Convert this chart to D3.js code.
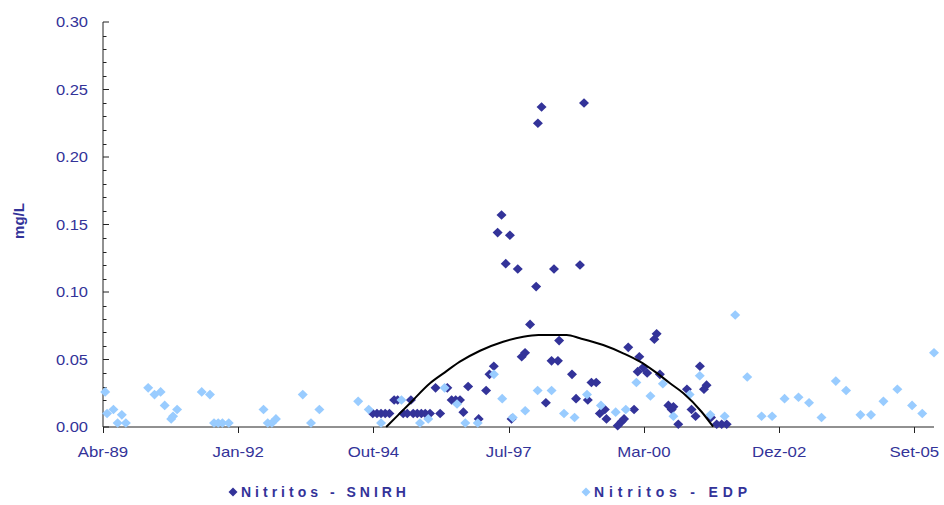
<!DOCTYPE html>
<html><head><meta charset="utf-8">
<script src="https://cdn.jsdelivr.net/npm/d3@7"></script>
<style>body{margin:0;background:#fff;} svg{display:block;font-family:Arial,"Liberation Sans",sans-serif;}</style>
</head><body><svg id="c" width="944" height="505"></svg>
<script>
// ---------- data ----------
const seriesNames = ["Nitritos - SNIRH", "Nitritos - EDP"];
const yTitle = "mg/L";
const xDomain = ["1989-04-15", "2006-02-10"];
const yDomain = [0, 0.30];
const xTickDates = ["1989-04-15","1992-01-10","1994-10-06","1997-07-02","2000-03-28","2002-12-23","2005-09-18"];
const xTickLabels = ["Abr-89","Jan-92","Out-94","Jul-97","Mar-00","Dez-02","Set-05"];
const yTicks = [0, 0.05, 0.10, 0.15, 0.20, 0.25, 0.30];
const yTickLabels = ["0.00","0.05","0.10","0.15","0.20","0.25","0.30"];
const yMinorTicks = [0.01,0.02,0.03,0.04,0.06,0.07,0.08,0.09,0.11,0.12,0.13,0.14,0.16,0.17,0.18,0.19,0.21,0.22,0.23,0.24,0.26,0.27,0.28,0.29];

const snirhDates = ["1994-10-01","1994-11-01","1994-12-01","1995-01-01","1995-02-01","1995-03-08","1995-04-03","1995-05-14","1995-06-13","1995-07-10",
"1995-07-27","1995-08-26","1995-09-25","1995-10-24","1995-11-28","1996-01-08","1996-02-11","1996-04-04","1996-05-06","1996-06-05",
"1996-07-07","1996-08-01","1996-09-05","1996-11-22","1997-01-16","1997-02-10","1997-03-14","1997-04-11","1997-05-10","1997-06-10",
"1997-07-11","1997-07-23","1997-09-07","1997-10-06","1997-10-31","1997-12-07","1998-01-21","1998-02-03","1998-03-02","1998-04-03",
"1998-05-15","1998-06-02","1998-07-01","1998-07-10","1998-10-13","1998-11-12","1998-12-11","1999-01-10","1999-02-07","1999-03-06",
"1999-04-10","1999-05-07","1999-06-13","1999-06-25","1999-09-16","1999-10-15","1999-11-02","1999-12-03","2000-01-15","2000-02-11",
"2000-02-23","2000-03-22","2000-04-21","2000-06-13","2000-06-30","2000-07-24","2000-09-25","2000-11-01","2000-10-19","2000-12-07",
"2001-02-09","2001-03-15","2001-04-14","2001-05-16","2001-06-15","2001-07-04","2001-08-06","2001-09-17","2001-10-24","2001-11-30"];
const snirhValues = [0.010,0.010,0.010,0.010,0.010,0.020,0.020,0.010,0.010,0.020,
0.010,0.010,0.010,0.010,0.010,0.029,0.010,0.029,0.020,0.020,
0.020,0.011,0.030,0.006,0.027,0.039,0.045,0.144,0.157,0.121,
0.142,0.006,0.117,0.052,0.055,0.076,0.104,0.225,0.237,0.018,
0.049,0.117,0.049,0.064,0.039,0.021,0.120,0.240,0.020,0.033,
0.033,0.010,0.013,0.006,0.001,0.004,0.006,0.059,0.013,0.041,
0.052,0.044,0.040,0.065,0.069,0.039,0.016,0.015,0.013,0.002,
0.028,0.013,0.008,0.045,0.028,0.031,0.007,0.002,0.002,0.002];

const edpDates = ["1989-05-01","1989-05-15","1989-07-01","1989-08-01","1989-09-01","1989-10-01","1990-03-15","1990-05-01","1990-06-15","1990-07-15",
"1990-09-01","1990-09-15","1990-10-15","1991-04-15","1991-06-15","1991-07-15","1991-08-15","1991-09-15","1991-11-01","1992-07-15",
"1992-08-15","1992-09-15","1992-10-15","1993-05-01","1993-07-01","1993-09-01","1994-06-15","1994-09-01","1994-12-01","1995-05-01",
"1995-09-15","1995-11-15","1996-03-15","1996-06-15","1996-08-15","1996-11-15","1997-03-15","1997-05-15","1997-08-01","1997-11-01",
"1998-02-01","1998-05-15","1998-08-15","1998-11-01","1999-02-01","1999-05-15","1999-09-01","1999-11-15","2000-02-01","2000-05-15",
"2000-08-15","2000-11-01","2001-03-01","2001-05-15","2001-08-01","2001-11-15","2002-02-01","2002-05-01","2002-08-15","2002-11-01",
"2003-02-01","2003-05-15","2003-08-01","2003-11-01","2004-02-15","2004-05-01","2004-08-15","2004-11-01","2005-02-01","2005-05-15",
"2005-09-01","2005-11-15","2006-02-10"];
const edpValues = [0.026,0.010,0.013,0.003,0.009,0.003,0.029,0.024,0.026,0.016,
0.006,0.008,0.013,0.026,0.024,0.003,0.003,0.003,0.003,0.013,
0.003,0.003,0.006,0.024,0.003,0.013,0.019,0.013,0.003,0.020,
0.003,0.006,0.029,0.017,0.003,0.003,0.039,0.021,0.007,0.012,
0.027,0.027,0.010,0.007,0.024,0.016,0.011,0.013,0.033,0.023,
0.032,0.008,0.024,0.038,0.009,0.008,0.083,0.037,0.008,0.008,
0.021,0.022,0.018,0.007,0.034,0.027,0.009,0.009,0.019,0.028,
0.016,0.010,0.055];

const trendDates = ["1995-01-08","1995-07-03","1995-11-28","1996-03-17","1996-07-06","1996-12-02","1997-05-22","1997-10-18","1998-02-07","1998-09-04",
"1998-12-11","1999-06-01","1999-10-27","2000-02-28","2000-06-17","2000-10-07","2001-01-14","2001-05-28","2001-08-22"];
const trendValues = [0.0000,0.0176,0.0324,0.0405,0.0484,0.0565,0.0632,0.0669,0.0681,0.0681,
0.0657,0.0607,0.0546,0.0484,0.0410,0.0324,0.0250,0.0113,0.0002];

// ---------- drawing ----------
const parse = d3.utcParse("%Y-%m-%d");
const svg = d3.select("#c");
const M = {left: 103, right: 934, top: 22, bottom: 427};
const textCol = "#333399";
const darkCol = "#333399";
const lightCol = "#99CCFF";

const x = d3.scaleUtc().domain(xDomain.map(parse)).range([M.left, M.right]);
const y = d3.scaleLinear().domain(yDomain).range([M.bottom, M.top]);

function stretch(sel, f) {
  sel.each(function() {
    const w = this.getComputedTextLength();
    d3.select(this).attr("textLength", w * f).attr("lengthAdjust", "spacingAndGlyphs");
  });
}

// Y axis
const yAx = svg.append("g").attr("transform", `translate(${M.left},0)`);
yAx.append("line").attr("x1", 0).attr("x2", 0).attr("y1", y(yDomain[0])).attr("y2", y(yDomain[1]))
  .attr("stroke", "#222").attr("stroke-width", 1);
yAx.selectAll("line.maj").data(yTicks).join("line").attr("class","maj")
  .attr("x1", 0).attr("x2", 6).attr("y1", d => y(d)).attr("y2", d => y(d))
  .attr("stroke", "#222");
yAx.selectAll("line.min").data(yMinorTicks).join("line").attr("class","min")
  .attr("x1", 0).attr("x2", 3.5).attr("y1", d => Math.round(y(d)) + 0.5).attr("y2", d => Math.round(y(d)) + 0.5)
  .attr("stroke", "#222");
const yl = yAx.selectAll("text").data(yTicks).join("text")
  .attr("x", -15).attr("y", d => y(d)).attr("dy", "0.36em")
  .attr("text-anchor", "end").attr("fill", textCol).attr("font-size", 15)
  .text((d, i) => yTickLabels[i]);
stretch(yl, 1.1);

// X axis
const xAx = svg.append("g").attr("transform", `translate(0,${M.bottom})`);
xAx.append("line").attr("x1", M.left).attr("x2", M.right).attr("y1", 0).attr("y2", 0)
  .attr("stroke", "#222");
xAx.selectAll("line.t").data(xTickDates).join("line").attr("class","t")
  .attr("x1", d => Math.round(x(parse(d))) + 0.5).attr("x2", d => Math.round(x(parse(d))) + 0.5)
  .attr("y1", 0).attr("y2", 6).attr("stroke", "#222");
const xl = xAx.selectAll("text").data(xTickDates).join("text")
  .attr("x", d => x(parse(d))).attr("y", 30)
  .attr("text-anchor", "middle").attr("fill", textCol).attr("font-size", 15)
  .text((d, i) => xTickLabels[i]);
stretch(xl, 1.12);

// Y title
svg.append("text").attr("transform", "translate(24,221) rotate(-90)")
  .attr("text-anchor", "middle").attr("fill", textCol).attr("font-size", 15).attr("font-weight", "bold")
  .text(yTitle);

// diamonds
const diamond = (rx, ry) => `M0,${-ry}L${rx},0L0,${ry}L${-rx},0Z`;
const snirh = snirhDates.map((d, i) => ({date: parse(d), value: snirhValues[i]}));
const edp = edpDates.map((d, i) => ({date: parse(d), value: edpValues[i]}));

svg.append("g").selectAll("path").data(snirh).join("path")
  .attr("d", diamond(5, 4.8))
  .attr("transform", d => `translate(${x(d.date)},${y(d.value)})`)
  .attr("fill", darkCol);
svg.append("g").selectAll("path").data(edp).join("path")
  .attr("d", diamond(5, 4.8))
  .attr("transform", d => `translate(${x(d.date)},${y(d.value)})`)
  .attr("fill", lightCol);

// trend line
const trend = trendDates.map((d, i) => ({date: parse(d), value: trendValues[i]}));
svg.append("path").datum(trend)
  .attr("d", d3.line().x(d => x(d.date)).y(d => y(d.value)).curve(d3.curveMonotoneX))
  .attr("fill", "none").attr("stroke", "#000").attr("stroke-width", 2);

// legend
const legend = [
  {name: seriesNames[0], color: darkCol, x: 233, w: 165},
  {name: seriesNames[1], color: lightCol, x: 586, w: 153}
];
const lg = svg.append("g").selectAll("g").data(legend).join("g")
  .attr("transform", d => `translate(${d.x},492)`);
lg.append("path").attr("d", diamond(4.5, 4.5)).attr("fill", d => d.color);
lg.append("text").attr("x", 8).attr("dy", "0.36em")
  .attr("fill", textCol).attr("font-size", 14).attr("font-weight", "bold")
  .attr("textLength", d => d.w).attr("lengthAdjust", "spacing")
  .text(d => d.name);
</script></body></html>
